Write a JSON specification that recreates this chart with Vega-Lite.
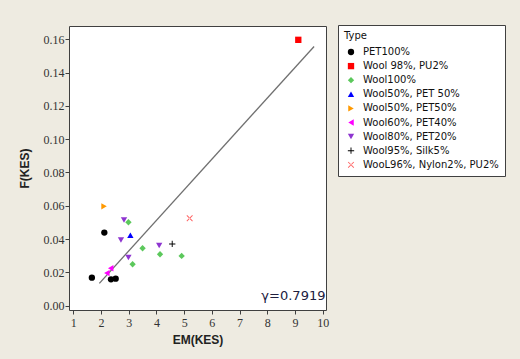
{
  "$schema": "https://vega.github.io/schema/vega-lite/v6.json",
  "width": 257,
  "height": 284,
  "autosize": "none",
  "padding": {"left": 69, "top": 26, "right": 194, "bottom": 49},
  "background": "#EEEBE1",
  "view": {"fill": "white", "stroke": "#404040", "strokeWidth": 1},
  "config": {
    "font": "Liberation Sans",
    "axis": {
      "domain": false,
      "grid": false,
      "tickColor": "#404040",
      "tickSize": 4,
      "tickCount": 20,
      "labelOverlap": false,
      "labelFont": "Liberation Sans Narrow",
      "labelFontSize": 12,
      "labelColor": "#333333",
      "titleFont": "Liberation Sans",
      "titleFontSize": 12,
      "titleFontWeight": "bold",
      "titleColor": "#222222"
    }
  },
  "datasets": {
    "pts": [
      {"EM": 1.67, "F": 0.0168, "Type": "PET100%"},
      {"EM": 2.12, "F": 0.0439, "Type": "PET100%"},
      {"EM": 2.36, "F": 0.0158, "Type": "PET100%"},
      {"EM": 2.53, "F": 0.0162, "Type": "PET100%"},
      {"EM": 9.12, "F": 0.1597, "Type": "Wool 98%, PU2%"},
      {"EM": 2.99, "F": 0.0501, "Type": "Wool100%"},
      {"EM": 3.50, "F": 0.0345, "Type": "Wool100%"},
      {"EM": 3.14, "F": 0.0249, "Type": "Wool100%"},
      {"EM": 4.13, "F": 0.0309, "Type": "Wool100%"},
      {"EM": 4.91, "F": 0.0299, "Type": "Wool100%"},
      {"EM": 3.06, "F": 0.0423, "Type": "Wool50%, PET 50%"},
      {"EM": 2.11, "F": 0.0597, "Type": "Wool50%, PET50%"},
      {"EM": 2.21, "F": 0.0196, "Type": "Wool60%, PET40%"},
      {"EM": 2.35, "F": 0.0225, "Type": "Wool60%, PET40%"},
      {"EM": 2.83, "F": 0.0515, "Type": "Wool80%, PET20%"},
      {"EM": 2.72, "F": 0.0395, "Type": "Wool80%, PET20%"},
      {"EM": 2.99, "F": 0.0289, "Type": "Wool80%, PET20%"},
      {"EM": 4.10, "F": 0.0361, "Type": "Wool80%, PET20%"},
      {"EM": 4.57, "F": 0.0371, "Type": "Wool95%, Silk5%"},
      {"EM": 5.20, "F": 0.0525, "Type": "WooL96%, Nylon2%, PU2%"}
    ],
    "fit": [
      {"EM": 1.94, "F": 0.0134},
      {"EM": 9.69, "F": 0.1557}
    ],
    "note": [
      {"EM": 10.1, "F": 0.0034, "label": "γ=0.7919"}
    ]
  },
  "layer": [
    {
      "data": {"name": "fit"},
      "mark": {"type": "line", "color": "#707070", "strokeWidth": 1.3},
      "encoding": {
        "x": {"field": "EM", "type": "quantitative", "scale": {"domain": [0.845, 10.12], "nice": false, "zero": false},
              "axis": {"values": [1,2,3,4,5,6,7,8,9,10], "format": "d", "title": "EM(KES)", "labelPadding": 3, "titlePadding": 6}},
        "y": {"field": "F", "type": "quantitative", "scale": {"domain": [-0.0026, 0.168], "nice": false, "zero": false},
              "axis": {"values": [0,0.02,0.04,0.06,0.08,0.1,0.12,0.14,0.16], "format": ".2f", "title": "F(KES)", "labelPadding": 1, "titlePadding": 12}}
      }
    },
    {
      "data": {"name": "pts"},
      "mark": {"type": "point", "filled": true, "opacity": 1, "strokeWidth": 0, "size": 40},
      "encoding": {
        "x": {"field": "EM", "type": "quantitative"},
        "y": {"field": "F", "type": "quantitative"},
        "color": {
          "field": "Type", "type": "nominal",
          "scale": {
            "domain": ["PET100%", "Wool 98%, PU2%", "Wool100%", "Wool50%, PET 50%", "Wool50%, PET50%", "Wool60%, PET40%", "Wool80%, PET20%", "Wool95%, Silk5%", "WooL96%, Nylon2%, PU2%"],
            "range": ["#000000", "#FF0000", "#5CC85C", "#0000FF", "#FF9900", "#FF00FF", "#8E35D0", "#000000", "#FF6060"]
          },
          "legend": {
            "orient": "none", "legendX": 269, "legendY": -1,
            "title": "\u2007\u2007\u2007Type", "titleFont": "DejaVu Sans", "titleFontWeight": "normal", "titleFontSize": 10, "titleColor": "#111111", "titlePadding": 6,
            "labelFont": "DejaVu Sans", "labelFontSize": 10, "labelColor": "#111111",
            "labelExpr": "datum.label + '\u2007\u2007'",
            "fillColor": "white", "strokeColor": "#404040", "padding": 6,
            "rowPadding": 4.1, "symbolSize": 40, "labelOffset": 7, "symbolOffset": 2
          }
        },
        "shape": {
          "field": "Type", "type": "nominal",
          "scale": {
            "domain": ["PET100%", "Wool 98%, PU2%", "Wool100%", "Wool50%, PET 50%", "Wool50%, PET50%", "Wool60%, PET40%", "Wool80%, PET20%", "Wool95%, Silk5%", "WooL96%, Nylon2%, PU2%"],
            "range": ["circle", "square", "diamond", "triangle-up", "triangle-right", "triangle-left", "triangle-down",
                      "M-1,-0.15H1V0.15H-1Z M-0.15,-1H0.15V1H-0.15Z",
                      "M-1,-0.8L-0.8,-1L1,0.8L0.8,1Z M1,-0.8L0.8,-1L-1,0.8L-0.8,1Z"]
          }
        }
      }
    },
    {
      "data": {"name": "note"},
      "mark": {"type": "text", "align": "right", "baseline": "alphabetic", "font": "DejaVu Sans", "fontSize": 13, "color": "#202040"},
      "encoding": {
        "x": {"field": "EM", "type": "quantitative"},
        "y": {"field": "F", "type": "quantitative"},
        "text": {"field": "label"}
      }
    }
  ]
}
